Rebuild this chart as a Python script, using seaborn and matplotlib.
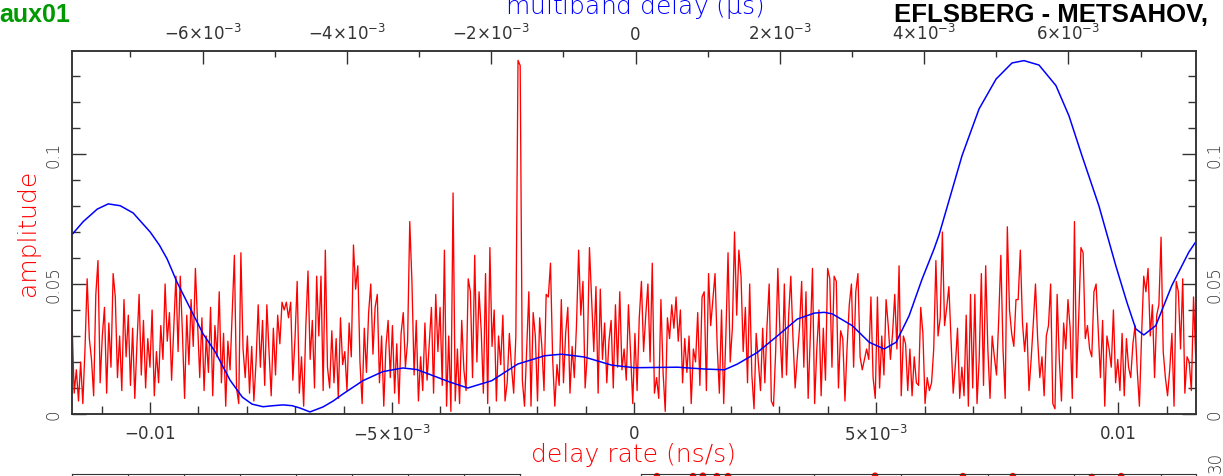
import numpy as np
import matplotlib
matplotlib.use("Agg")
import matplotlib.pyplot as plt
import seaborn as sns
from matplotlib.ticker import FixedLocator, FixedFormatter, MultipleLocator

# delay rate spectrum: amplitude (x1e-3) sampled evenly over the rate window (ns/s)
rate_lo, rate_hi = -0.01161, 0.0116
rate_amp_milli = [
    36, 8, 17, 5, 20, 4, 25, 52, 29, 21, 7, 46, 59, 12, 30, 41, 8, 35, 18, 54,
    45, 14, 30, 9, 44, 22, 38, 11, 33, 6, 27, 46, 15, 36, 10, 29, 18, 40, 7, 24,
    12, 34, 21, 50, 28, 39, 13, 33, 53, 24, 53, 31, 6, 38, 19, 44, 26, 56, 35, 14,
    37, 9, 30, 16, 41, 7, 34, 22, 47, 12, 31, 3, 28, 17, 39, 61, 10, 4, 62, 25,
    14, 30, 8, 26, 5, 20, 42, 18, 36, 11, 42, 24, 7, 33, 15, 38, 27, 43, 40, 43,
    37, 43, 13, 29, 51, 8, 22, 3, 34, 55, 21, 36, 10, 53, 30, 53, 9, 63, 18, 10,
    32, 12, 29, 6, 37, 19, 24, 9, 35, 22, 65, 48, 57, 20, 4, 33, 16, 39, 50, 23,
    41, 46, 12, 30, 3, 26, 36, 14, 34, 8, 27, 4, 31, 39, 18, 28, 74, 51, 15, 36,
    5, 22, 9, 35, 13, 27, 41, 8, 46, 24, 41, 11, 63, 3, 30, 1, 85, 5, 25, 4,
    36, 17, 9, 52, 47, 14, 61, 20, 47, 32, 8, 54, 4, 64, 26, 40, 5, 30, 19, 38,
    5, 12, 31, 18, 8, 30, 136, 134, 13, 3, 25, 47, 3, 39, 30, 5, 37, 26, 9, 46,
    45, 58, 21, 3, 19, 11, 44, 12, 31, 41, 8, 26, 14, 34, 63, 38, 51, 10, 23, 64,
    44, 24, 49, 8, 48, 21, 35, 12, 28, 36, 10, 42, 18, 47, 17, 25, 13, 42, 23, 4,
    31, 9, 37, 51, 24, 38, 50, 20, 58, 8, 14, 6, 44, 16, 1, 37, 29, 42, 33, 45,
    28, 40, 12, 29, 16, 30, 4, 25, 20, 39, 11, 45, 47, 9, 54, 34, 44, 54, 26, 8,
    40, 4, 30, 62, 20, 33, 70, 38, 63, 53, 24, 41, 12, 50, 15, 2, 31, 20, 9, 33,
    12, 34, 50, 5, 3, 24, 56, 31, 14, 50, 15, 38, 53, 29, 10, 22, 33, 51, 18, 47,
    6, 30, 56, 4, 25, 40, 7, 33, 13, 56, 52, 18, 53, 51, 10, 32, 29, 5, 26, 42,
    50, 18, 47, 54, 22, 17, 21, 25, 21, 45, 14, 6, 45, 10, 30, 15, 44, 34, 21, 31,
    46, 25, 57, 7, 30, 27, 9, 25, 7, 22, 12, 11, 41, 31, 4, 14, 9, 12, 25, 59,
    30, 37, 70, 34, 41, 49, 28, 8, 19, 33, 6, 18, 7, 38, 3, 46, 10, 46, 4, 21,
    54, 11, 57, 25, 6, 30, 22, 15, 36, 61, 25, 6, 72, 40, 31, 26, 44, 44, 63, 35,
    24, 35, 9, 21, 35, 50, 29, 14, 22, 7, 30, 34, 50, 4, 2, 46, 21, 5, 35, 25,
    44, 33, 6, 74, 14, 38, 64, 62, 29, 34, 25, 22, 47, 50, 32, 14, 36, 3, 30, 25,
    18, 40, 12, 21, 9, 31, 7, 29, 18, 14, 27, 34, 17, 3, 30, 53, 47, 56, 30, 42,
    14, 38, 42, 68, 24, 14, 7, 17, 31, 3, 51, 47, 25, 52, 8, 22, 20, 9, 45, 22,
]

# multiband delay function: delay (x1e-3 us) and amplitude (x1e-3)
mbd_milli = [
    -7.81, -7.654, -7.46, -7.308, -7.142, -6.962, -6.727, -6.60, -6.491, -6.353,
    -6.215, -5.993, -5.827, -5.619, -5.45, -5.315, -5.163, -5.02, -4.886, -4.76,
    -4.651, -4.512, -4.332, -4.19, -4.055, -3.779, -3.502, -3.225, -3.031, -2.754,
    -2.574, -2.325, -1.993, -1.633, -1.26, -1.024, -0.706, -0.332, -0.014, 0.581,
    0.955, 1.232, 1.412, 1.689, 1.965, 2.242, 2.478, 2.616, 2.727, 3.003,
    3.239, 3.446, 3.612, 3.792, 3.972, 4.138, 4.208, 4.526, 4.761, 4.997,
    5.218, 5.384, 5.592, 5.827, 6.007, 6.187, 6.422, 6.657, 6.81, 6.934,
    7.045, 7.211, 7.433, 7.668, 7.76,
]
mbd_amp_milli = [
    69, 74, 78.8, 80.8, 80.1, 77.3, 70, 65, 59.6, 50.6,
    43, 30.8, 24, 13, 6.5, 3.8, 2.8, 3.2, 3.5, 3.2,
    2.3, 0.8, 2.7, 5.0, 7.7, 12.8, 16.3, 17.7, 17.1, 14.2,
    12.3, 10, 12.8, 19.2, 22.4, 23, 21.9, 18.8, 17.8, 18,
    17.3, 17.0, 19.2, 23.7, 30, 36.5, 38.8, 39.1, 38.5, 34,
    27.6, 25, 27.6, 37.8, 51.9, 63.5, 69, 99.4, 117.3, 128.8,
    135, 135.9, 134.2, 126.3, 114.7, 99.4, 80.1, 57, 43, 32.7,
    30.4, 34, 49.4, 62.2, 66,
]

rate_ticks = [-0.01, -0.005, 0, 0.005, 0.01]
rate_tick_labels = ["$-0.01$", r"$-5{\times}10^{-3}$", "0", r"$5{\times}10^{-3}$", "0.01"]
mbd_ticks = [-6e-3, -4e-3, -2e-3, 0, 2e-3, 4e-3, 6e-3]
mbd_tick_labels = [r"$-6{\times}10^{-3}$", r"$-4{\times}10^{-3}$", r"$-2{\times}10^{-3}$", "0",
                   r"$2{\times}10^{-3}$", r"$4{\times}10^{-3}$", r"$6{\times}10^{-3}$"]
amp_ticks = [0, 0.05, 0.1]
amp_tick_labels = ["0", "0.05", "0.1"]

# partly visible panels below the main plot
phase_chan = [0.92, 3.0, 3.57, 4.38, 5.02, 13.5, 18.57, 21.45, 26.0, 27.7]
phase_deg = [176, 176, 177, 176, 176, 177, 176, 176, 174, 176]

sns.set_style("white")
plt.rcParams["font.family"] = ["DejaVu Sans"]
plt.rcParams["mathtext.default"] = "regular"

ink = "#333333"
rate = np.linspace(rate_lo, rate_hi, len(rate_amp_milli))
amp = np.array(rate_amp_milli) / 1000.0
mbd = np.array(mbd_milli) / 1000.0
mbd_amp = np.array(mbd_amp_milli) / 1000.0

fig = plt.figure(figsize=(12.23, 4.77), dpi=100)
ax = fig.add_axes([72 / 1223, 62 / 477, 1123.7 / 1223, 363 / 477])

sns.lineplot(x=rate, y=amp, ax=ax, color="red", linewidth=0.95,
             estimator=None, sort=False)
ax.set_xlim(rate_lo, rate_hi)
ax.set_ylim(0, 0.1396)
ax.set_xlabel("")
ax.set_ylabel("")

ax.xaxis.set_major_locator(FixedLocator(rate_ticks))
ax.xaxis.set_major_formatter(FixedFormatter(rate_tick_labels))
ax.xaxis.set_minor_locator(MultipleLocator(0.001))
ax.yaxis.set_major_locator(FixedLocator(amp_ticks))
ax.yaxis.set_major_formatter(FixedFormatter(amp_tick_labels))
ax.yaxis.set_minor_locator(MultipleLocator(0.01))
ax.tick_params(axis="both", which="both", direction="in", colors=ink, labelcolor=ink)
ax.tick_params(axis="x", which="both", bottom=True, top=False)
ax.tick_params(axis="x", which="major", length=9, width=1, pad=7, labelsize=12)
ax.tick_params(axis="x", which="minor", length=5.5, width=1)
ax.tick_params(axis="y", which="both", left=True, right=True, labelleft=True, labelright=True)
ax.tick_params(axis="y", which="major", length=10, width=1, pad=7, labelsize=12)
ax.tick_params(axis="y", which="minor", length=5.5, width=1)
for lab in ax.get_yticklabels(which="both"):
    lab.set_rotation(90)
    lab.set_va("center")
    lab.set_fontweight("light")

ax2 = ax.twiny()
sns.lineplot(x=mbd, y=mbd_amp, ax=ax2, color="blue", linewidth=1.1,
             estimator=None, sort=False)
ax2.set_xlim(-7.81e-3, 7.764e-3)
ax2.set_ylim(0, 0.1396)
ax2.set_xlabel("")
ax2.xaxis.set_major_locator(FixedLocator(mbd_ticks))
ax2.xaxis.set_major_formatter(FixedFormatter(mbd_tick_labels))
ax2.xaxis.set_minor_locator(MultipleLocator(0.001))
ax2.tick_params(axis="x", which="both", direction="in", top=True, bottom=False,
                colors=ink, labelcolor=ink)
ax2.tick_params(axis="x", which="major", length=9, width=1, pad=6, labelsize=12)
ax2.tick_params(axis="x", which="minor", length=4.5, width=1)

for a in (ax, ax2):
    for sp in a.spines.values():
        sp.set_visible(True)
        sp.set_color(ink)
        sp.set_linewidth(1.1)

fig.text(-1 / 1223, 1 - 22 / 477, "aux01", color="#009900", fontsize=18,
         fontweight="bold", family=["Liberation Sans"], va="baseline", ha="left")
fig.text(894 / 1223, 1 - 22 / 477, "EFLSBERG - METSAHOV,", color="black", fontsize=18.5,
         fontweight="bold", family=["Liberation Sans"], va="baseline", ha="left")
fig.text(634 / 1223, 1 - 14 / 477, r"multiband delay ($\mu$s)", color="blue",
         fontsize=18, fontweight="light", va="baseline", ha="center")
fig.text(633.5 / 1223, 15 / 477, "delay rate (ns/s)", color="red",
         fontsize=18, fontweight="light", va="baseline", ha="center")
fig.text(28 / 1223, 1 - 233 / 477, "amplitude", color="red", fontsize=18,
         fontweight="light", rotation=90, va="center", ha="center")

# lower panels, mostly outside the figure
axl = fig.add_axes([72 / 1223, -0.3, 448 / 1223, 0.3 + 1.5 / 477])
axl.set_xlim(0, 8)
axl.set_ylim(0, 1)
axl.xaxis.set_major_locator(MultipleLocator(1))
axl.tick_params(axis="x", which="both", direction="in", top=True, bottom=False,
                labelbottom=False, length=6, colors=ink)
axl.set_yticks([])

axr = fig.add_axes([641 / 1223, -0.3, 554.7 / 1223, 0.3 + 1.5 / 477])
sns.scatterplot(x=phase_chan, y=phase_deg, ax=axr, color="red", s=22,
                edgecolor="none", clip_on=False)
axr.set_xlim(0, 32)
axr.set_ylim(-180, 180)
axr.xaxis.set_major_locator(MultipleLocator(5))
axr.tick_params(axis="x", which="both", direction="in", top=True, bottom=False,
                labelbottom=False, length=6, colors=ink)
axr.set_yticks([])
for a in (axl, axr):
    for sp in a.spines.values():
        sp.set_visible(True)
        sp.set_color(ink)
fig.text(1216 / 1223, 1 - 462 / 477, "30", color=ink, fontsize=12, fontweight="light",
         rotation=90, va="center", ha="center")

fig.savefig("out.png", dpi=100)
